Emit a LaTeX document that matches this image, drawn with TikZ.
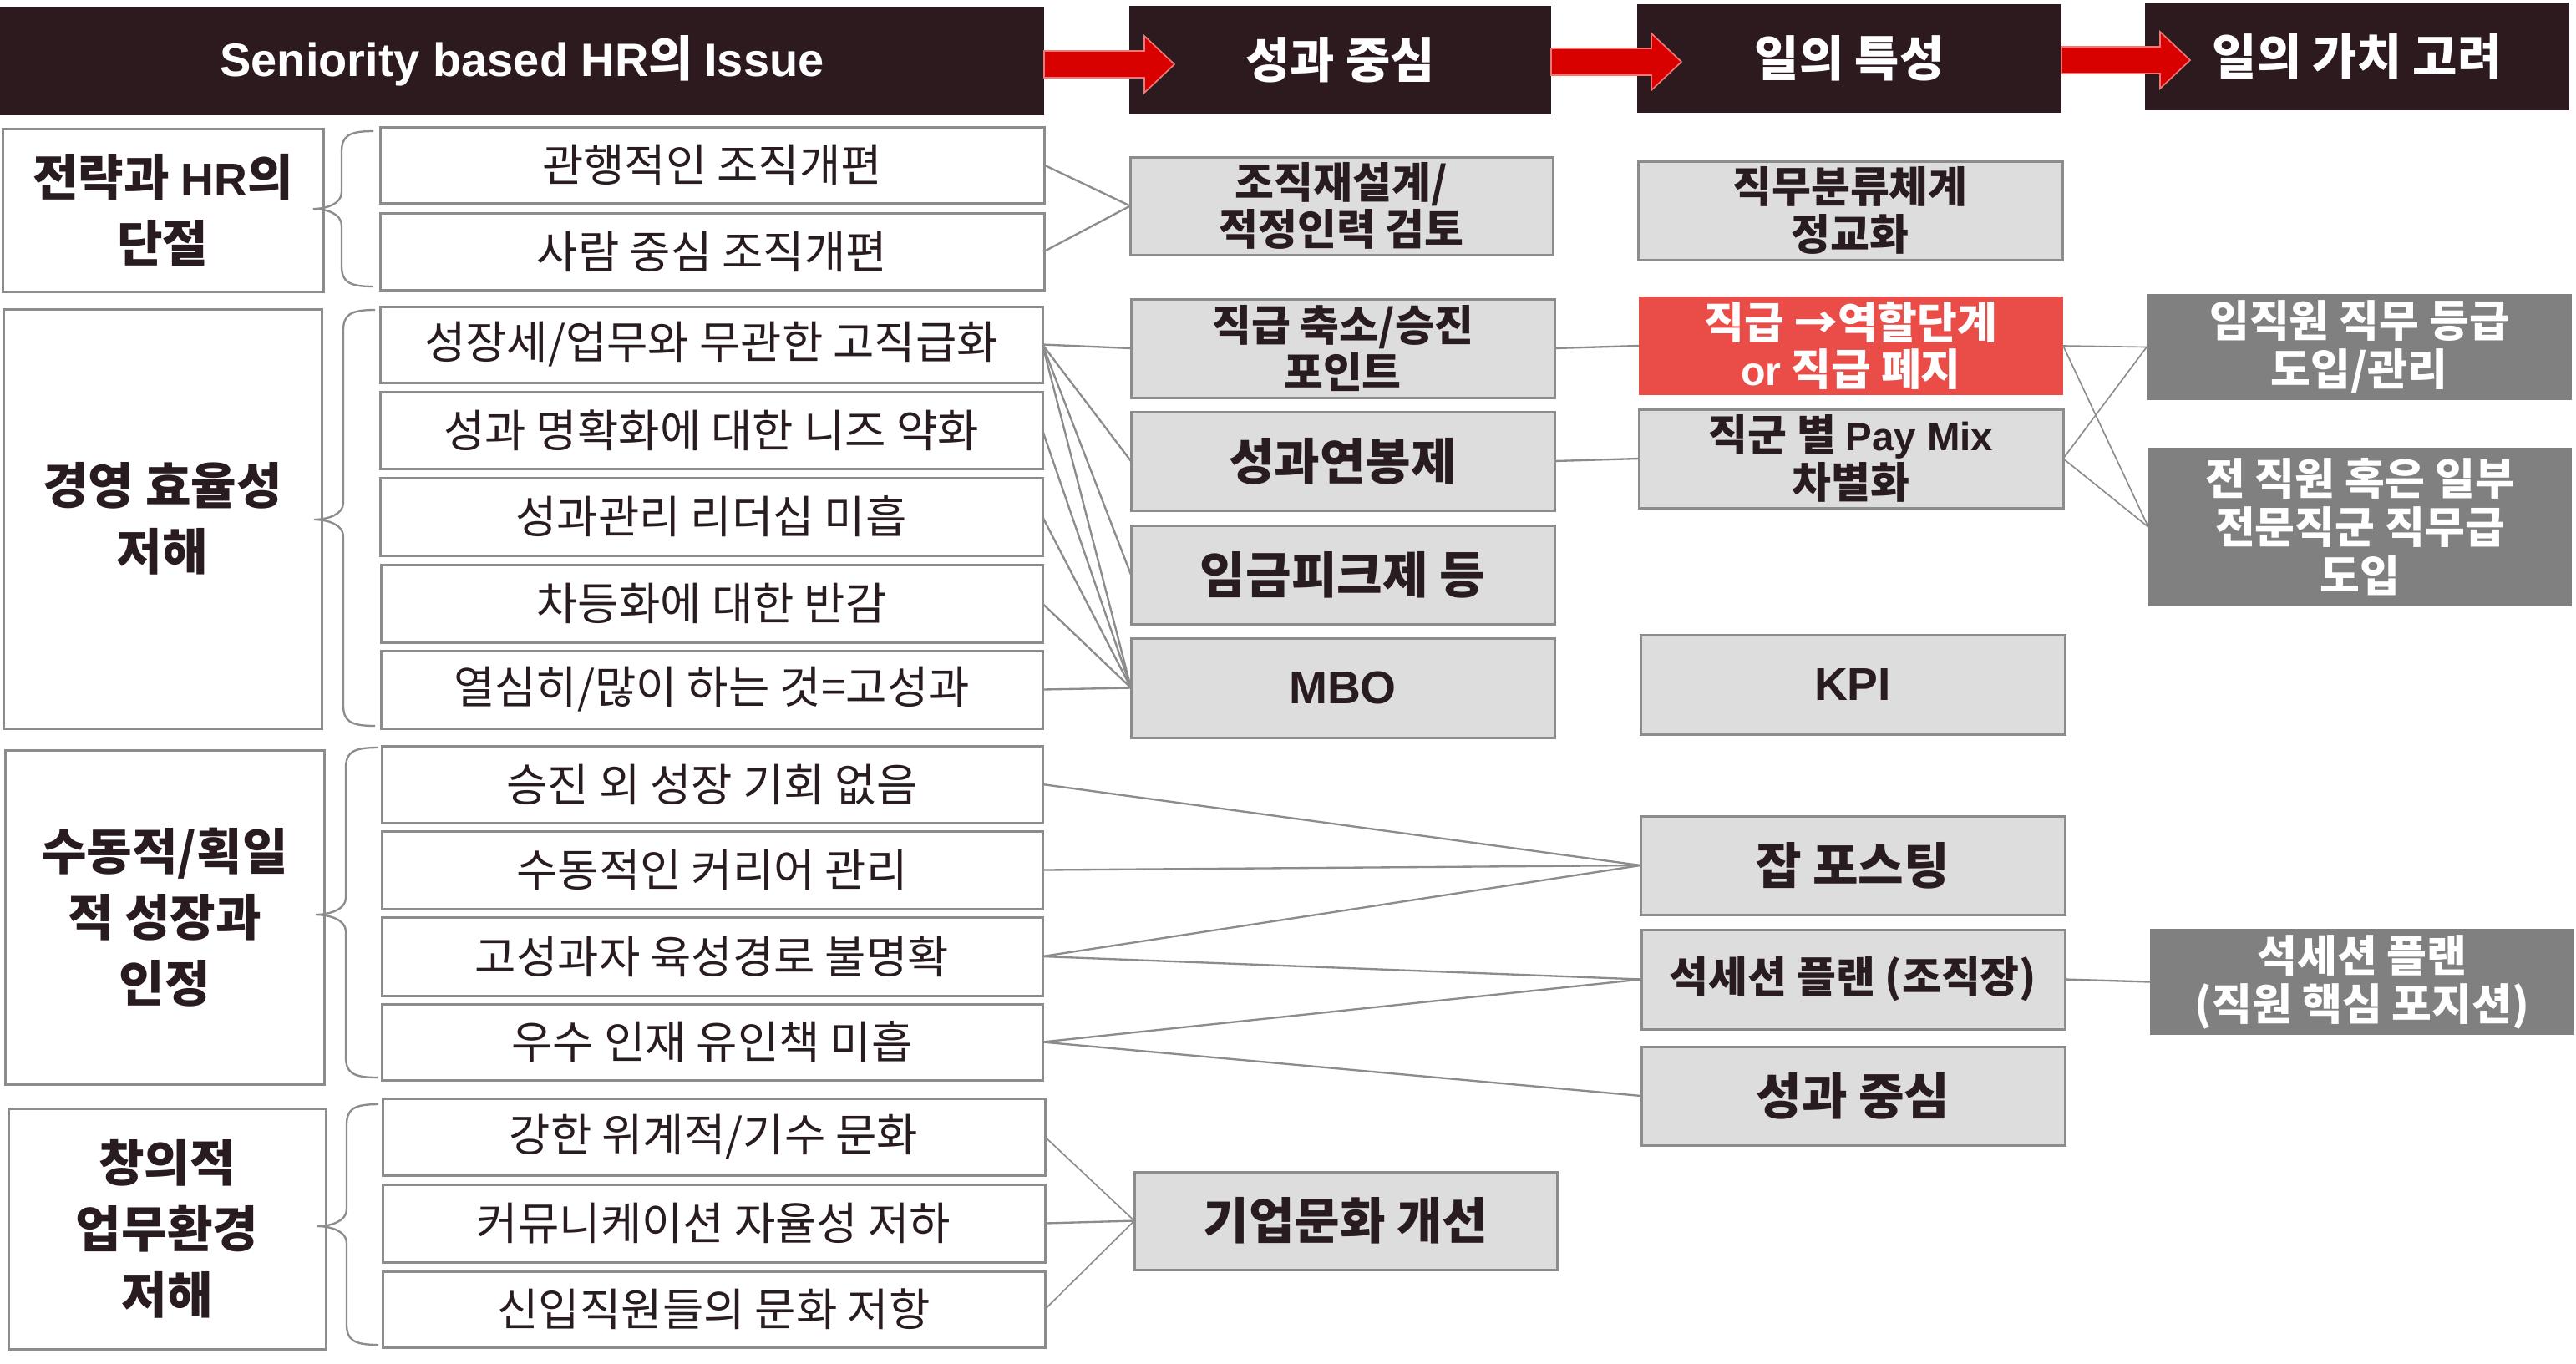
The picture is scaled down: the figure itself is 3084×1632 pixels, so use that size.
\documentclass[tikz,border=0pt]{standalone}
\usepackage{fontspec}
\setmainfont{Noto Sans CJK KR}
\newfontfamily\latfam[Scale=0.93]{Liberation Sans}
\newfontfamily\latfamH[Scale=0.965]{Liberation Sans}
\newcommand\LT[1]{{\latfam\bfseries #1}}
\newcommand\LH[1]{{\latfamH\bfseries #1}}
\newcommand\fsz[2]{\fontsize{#1}{#2}\selectfont}
\definecolor{hdrcol}{RGB}{45,26,31}
\definecolor{txtcol}{RGB}{40,28,32}
\definecolor{arrred}{RGB}{217,0,0}
\definecolor{arredge}{RGB}{236,120,120}
\definecolor{bordcol}{RGB}{140,140,140}
\definecolor{lgfill}{RGB}{221,221,221}
\definecolor{redbox}{RGB}{234,76,72}
\definecolor{dgfill}{RGB}{128,128,128}
\definecolor{linecol}{RGB}{140,140,140}
\newcommand\bx[7]{\node[#6, minimum width={(#4-#2)*0.3pt}, minimum height={(#5-#3)*0.3pt}] (#1) at ({(#2+#4)/2},{(#3+#5)/2}) {#7};}
% brace: top y, bottom y, tip y, vertical x, tip x, end x
\newcommand\brc[6]{\draw[bracest] (#6,#1) .. controls (#4+8,#1) and (#4,#1+6) .. (#4,#1+25) -- (#4,#3-20) .. controls (#4,#3-6) and (#5+16,#3) .. (#5,#3) .. controls (#5+16,#3) and (#4,#3+6) .. (#4,#3+20) -- (#4,#2-25) .. controls (#4,#2-6) and (#4+8,#2) .. (#6,#2);}
\begin{document}
\begin{tikzpicture}[x=0.3pt,y=-0.3pt,
  every node/.style={inner sep=0pt, outer sep=0pt, align=center},
  hdr/.style={fill=hdrcol, text=white, font=\bfseries\fsz{17.4pt}{20pt}},
  lbox/.style={draw=bordcol, line width=0.9pt, fill=white, text=txtcol, font=\bfseries\fsz{17.8pt}{23.7pt}},
  item/.style={draw=bordcol, line width=0.9pt, fill=white, text=txtcol, font=\fsz{16.1pt}{18pt}},
  gbox/.style={draw=bordcol, line width=0.9pt, fill=lgfill, text=txtcol, font=\bfseries\fsz{15.3pt}{17pt}},
  gboxL/.style={gbox, font=\bfseries\fsz{17.8pt}{19pt}},
  rbox/.style={fill=redbox, text=white, font=\bfseries\fsz{15.6pt}{17pt}},
  dbox/.style={fill=dgfill, text=white, font=\bfseries\fsz{15.6pt}{17.4pt}},
  conn/.style={draw=linecol, line width=0.7pt},
  thin conn/.style={draw=linecol, line width=0.5pt},
  bracest/.style={draw=bordcol, line width=0.7pt},
  redarr/.style={fill=arrred, draw=arredge, line width=0.5pt}
]
\useasboundingbox (0,0) rectangle (3084,1632);
\fill[white] (0,0) rectangle (3084,1632);

% headers
\bx{h1}{0}{8}{1250}{138}{hdr}{\LH{Seniority based HR}의 \LH{Issue}}
\bx{h2}{1352}{7}{1857}{137}{hdr}{성과 중심}
\bx{h3}{1960}{5}{2468}{135}{hdr}{일의 특성}
\bx{h4}{2568}{3}{3076}{132}{hdr}{일의 가치 고려}

% red arrows
\draw[redarr] (h1.east) ++(0,-12) -- ++(120,0) -- ++(0,-18) -- ++(36,34) -- ++(-36,34) -- ++(0,-18) -- ++(-120,0) -- cycle;
\draw[redarr] (h2.east) ++(0,-14) -- ++(120,0) -- ++(0,-18) -- ++(36,34) -- ++(-36,34) -- ++(0,-18) -- ++(-120,0) -- cycle;
\draw[redarr] (h3.east) ++(0,-14) -- ++(118,0) -- ++(0,-18) -- ++(36,34) -- ++(-36,34) -- ++(0,-18) -- ++(-118,0) -- cycle;

% left category boxes
\bx{L1}{3}{154}{387}{349}{lbox}{전략과 \LT{HR}의\\단절}
\bx{L2}{4}{370}{385}{872}{lbox}{경영 효율성\\저해}
\bx{L3}{6}{898}{388}{1298}{lbox}{수동적/획일\\적 성장과\\인정}
\bx{L4}{10}{1327}{390}{1615}{lbox}{창의적\\업무환경\\저해}

% braces
\brc{157}{343}{250}{409}{375}{447}
\brc{371}{869}{622}{411}{376}{449}
\brc{895}{1290}{1095}{414}{378}{452}
\brc{1322}{1610}{1468}{415}{380}{453}

% issue items
\bx{a1}{455}{152}{1250}{243}{item}{관행적인 조직개편}
\bx{a2}{455}{255}{1250}{347}{item}{사람 중심 조직개편}
\bx{b1}{455}{367}{1248}{458}{item}{성장세/업무와 무관한 고직급화}
\bx{b2}{455}{469}{1248}{561}{item}{성과 명확화에 대한 니즈 약화}
\bx{b3}{455}{572}{1248}{665}{item}{성과관리 리더십 미흡}
\bx{b4}{456}{676}{1248}{769}{item}{차등화에 대한 반감}
\bx{b5}{456}{779}{1248}{872}{item}{열심히/많이 하는 것=고성과}
\bx{c1}{457}{893}{1248}{985}{item}{승진 외 성장 기회 없음}
\bx{c2}{457}{995}{1248}{1088}{item}{수동적인 커리어 관리}
\bx{c3}{457}{1098}{1248}{1192}{item}{고성과자 육성경로 불명확}
\bx{c4}{457}{1202}{1248}{1293}{item}{우수 인재 유인책 미흡}
\bx{d1}{458}{1315}{1251}{1407}{item}{강한 위계적/기수 문화}
\bx{d2}{458}{1418}{1251}{1511}{item}{커뮤니케이션 자율성 저하}
\bx{d3}{458}{1522}{1251}{1613}{item}{신입직원들의 문화 저항}

% column 2
\bx{g1}{1353}{188}{1859}{305}{gbox}{조직재설계/\\적정인력 검토}
\bx{g2}{1354}{358}{1861}{476}{gbox}{직급 축소/승진\\포인트}
\bx{g3}{1354}{493}{1861}{611}{gboxL}{성과연봉제}
\bx{g4}{1354}{629}{1861}{747}{gboxL}{임금피크제 등}
\bx{g5}{1354}{764}{1861}{883}{gboxL}{\LT{MBO}}
\bx{g6}{1358}{1403}{1864}{1520}{gboxL}{기업문화 개선}

% column 3
\bx{k1}{1961}{193}{2469}{311}{gbox}{직무분류체계\\정교화}
\bx{k2}{1962}{355}{2470}{473}{rbox}{직급 →역할단계\\\LT{or} 직급 폐지}
\bx{k3}{1962}{490}{2470}{608}{gbox}{직군 별 \LT{Pay Mix}\\차별화}
\bx{k4}{1964}{760}{2472}{879}{gboxL}{\LT{KPI}}
\bx{k5}{1964}{977}{2472}{1095}{gboxL}{잡 포스팅}
\bx{k6}{1965}{1113}{2472}{1232}{gbox}{석세션 플랜 (조직장)}
\bx{k7}{1965}{1253}{2472}{1371}{gboxL}{성과 중심}

% column 4
\bx{m1}{2570}{352}{3079}{479}{dbox}{임직원 직무 등급\\도입/관리}
\bx{m2}{2572}{536}{3079}{726}{dbox}{전 직원 혹은 일부\\전문직군 직무급\\도입}
\bx{m3}{2574}{1112}{3082}{1239}{dbox}{석세션 플랜\\(직원 핵심 포지션)}

% connectors
\draw[conn] (a1.east) -- (g1.west);
\draw[conn] (a2.east) -- (g1.west);
\draw[conn] (b1.east) -- (g2.west);
\draw[conn] (b1.east) -- (g3.west);
\draw[conn] (b1.east) -- (g4.west);
\draw[conn] (b1.east) -- (g5.west);
\draw[conn] (b2.east) -- (g5.west);
\draw[conn] (b3.east) -- (g5.west);
\draw[conn] (b4.east) -- (g5.west);
\draw[conn] (b5.east) -- (g5.west);
\draw[conn] (g2.east) -- (k2.west);
\draw[conn] (g3.east) -- (k3.west);
\draw[thin conn] (k2.east) -- (m1.west);
\draw[thin conn] (k2.east) -- (m2.west);
\draw[thin conn] (k3.east) -- (m1.west);
\draw[thin conn] (k3.east) -- (m2.west);
\draw[conn] (c1.east) -- (k5.west);
\draw[conn] (c2.east) -- (k5.west);
\draw[conn] (c3.east) -- (k5.west);
\draw[conn] (c3.east) -- (k6.west);
\draw[conn] (c4.east) -- (k6.west);
\draw[conn] (c4.east) -- (k7.west);
\draw[conn] (k6.east) -- (m3.west);
\draw[thin conn] (d1.east) -- (g6.west);
\draw[conn] (d2.east) -- (g6.west);
\draw[thin conn] (d3.east) -- (g6.west);
\end{tikzpicture}
\end{document}
